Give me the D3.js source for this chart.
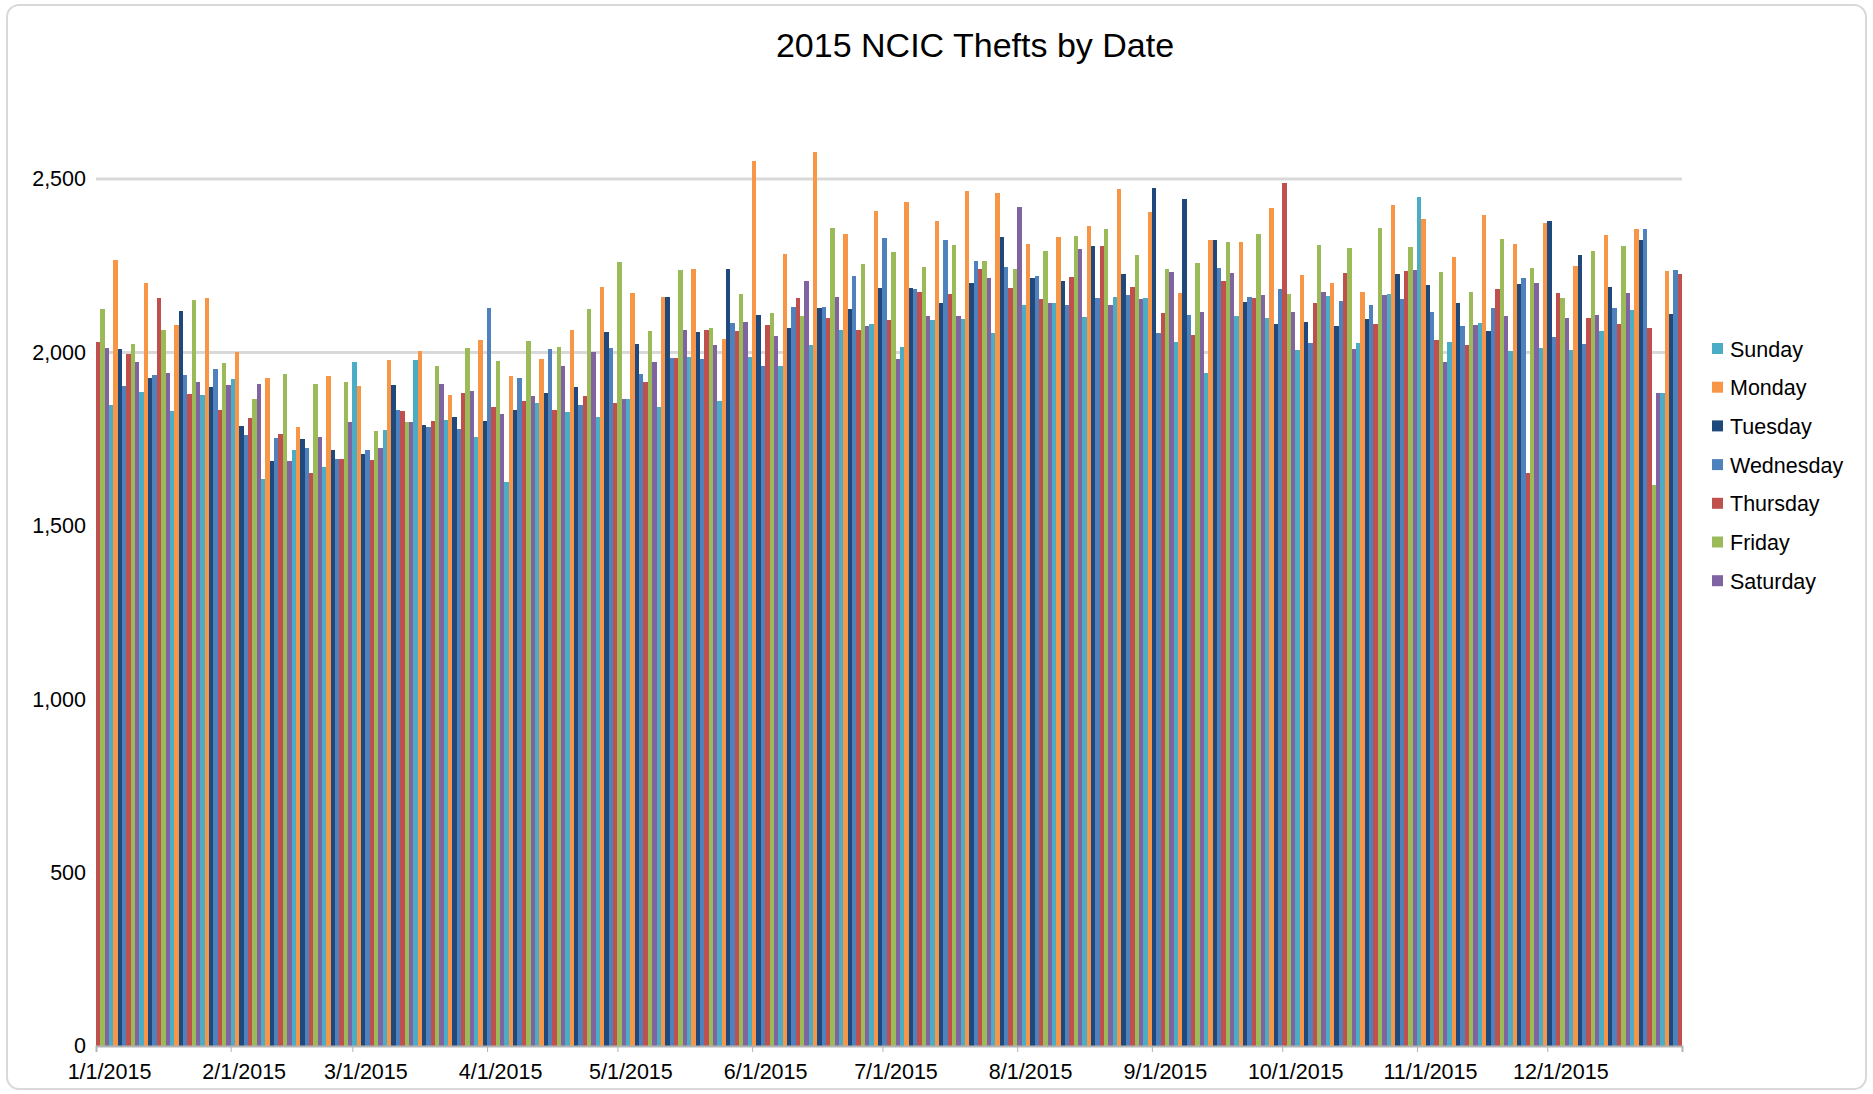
<!DOCTYPE html>
<html>
<head>
<meta charset="utf-8">
<script src="https://cdn.jsdelivr.net/npm/d3@7"></script>
<style>
  body { margin: 0; background: #fff; }
  text { font-family: "Liberation Sans", Arial, sans-serif; }
</style>
</head>
<body>
<div id="container"></div>
<script>
// thefts per day, one array per month
var jan = [2029, 2124, 2012, 1847, 2266, 2009, 1902, 1994, 2023, 1971, 1887, 2199, 1925, 1936, 2156, 2064, 1942, 1832, 2078, 2119, 1936, 1879, 2150, 1916, 1876, 2156, 1899, 1951, 1835, 1968, 1905];
var feb = [1922, 2000, 1789, 1763, 1812, 1867, 1910, 1636, 1925, 1688, 1754, 1766, 1939, 1688, 1720, 1786, 1751, 1723, 1653, 1908, 1757, 1670, 1931, 1720, 1694, 1694, 1916, 1798];
var mar = [1971, 1902, 1708, 1720, 1691, 1772, 1725, 1777, 1977, 1905, 1835, 1832, 1798, 1798, 1977, 2003, 1792, 1786, 1801, 1962, 1910, 1806, 1876, 1815, 1780, 1884, 2014, 1890, 1757, 2035, 1801];
var apr = [2127, 1844, 1974, 1821, 1627, 1931, 1835, 1925, 1861, 2032, 1873, 1853, 1980, 1882, 2009, 1835, 2017, 1960, 1827, 2064, 1899, 1847, 1873, 2124, 2000, 1815, 2188, 2058, 2014, 1853];
var may = [2260, 1867, 1867, 2171, 2023, 1939, 1916, 2061, 1971, 1844, 2159, 2159, 1983, 1983, 2237, 2066, 1986, 2240, 2058, 1980, 2064, 2069, 2020, 1861, 2040, 2240, 2084, 2061, 2168, 2087, 1988];
var jun = [2552, 2107, 1960, 2078, 2113, 2046, 1962, 2283, 2069, 2130, 2156, 2104, 2205, 2020, 2578, 2127, 2130, 2098, 2358, 2159, 2064, 2341, 2124, 2220, 2066, 2254, 2075, 2081, 2408, 2185];
var jul = [2329, 2092, 2289, 1980, 2017, 2434, 2185, 2182, 2173, 2246, 2104, 2092, 2379, 2142, 2324, 2168, 2309, 2104, 2095, 2465, 2199, 2263, 2240, 2263, 2214, 2055, 2460, 2332, 2246, 2185, 2240];
var aug = [2419, 2136, 2312, 2214, 2220, 2153, 2292, 2142, 2142, 2332, 2205, 2136, 2217, 2335, 2298, 2101, 2364, 2306, 2156, 2306, 2355, 2136, 2159, 2471, 2225, 2165, 2188, 2280, 2153, 2156, 2405];
var sep = [2474, 2055, 2113, 2240, 2231, 2029, 2171, 2442, 2107, 2049, 2257, 2116, 1942, 2324, 2324, 2243, 2205, 2318, 2228, 2104, 2318, 2145, 2159, 2156, 2341, 2165, 2098, 2416, 2081, 2182];
var oct = [2488, 2168, 2116, 2006, 2223, 2087, 2026, 2142, 2309, 2173, 2162, 2199, 2075, 2147, 2228, 2301, 2009, 2026, 2173, 2095, 2136, 2081, 2358, 2165, 2168, 2425, 2225, 2153, 2234, 2303, 2237];
var nov = [2448, 2384, 2194, 2116, 2035, 2231, 1971, 2029, 2275, 2142, 2075, 2020, 2173, 2078, 2084, 2396, 2061, 2127, 2182, 2327, 2104, 2003, 2312, 2197, 2214, 1653, 2243, 2199, 2012, 2373];
var dec = [2379, 2043, 2171, 2156, 2098, 2006, 2249, 2280, 2023, 2098, 2292, 2107, 2061, 2338, 2188, 2127, 2081, 2306, 2171, 2121, 2355, 2324, 2355, 2069, 1618, 1884, 1882, 2234, 2110, 2237, 2225];

var dayNames = ["Sunday", "Monday", "Tuesday", "Wednesday", "Thursday", "Friday", "Saturday"];
var dayColors = ["#4bacc6", "#f79646", "#1f497d", "#4f81bd", "#c0504d", "#9bbb59", "#8064a2"];
var yTicks = [0, 500, 1000, 1500, 2000, 2500];

var w = 1873;
var h = 1094;

var svg = d3.select("div#container").append("svg")
    .attr("width", w)
    .attr("height", h);

// outer frame
svg.append("rect")
    .attr("x", 7).attr("y", 5)
    .attr("width", w - 14).attr("height", h - 10)
    .attr("rx", 12)
    .attr("fill", "#fff")
    .attr("stroke", "#d9d9d9")
    .attr("stroke-width", 2);

svg.append("text")
    .attr("x", 975)
    .attr("y", 57)
    .attr("text-anchor", "middle")
    .attr("font-size", 34)
    .attr("fill", "#000")
    .text("2015 NCIC Thefts by Date");

var values = [].concat(jan, feb, mar, apr, may, jun, jul, aug, sep, oct, nov, dec);
var days = d3.timeDay.range(new Date(2015, 0, 1), new Date(2016, 0, 1));
var data = days.map(function(d, i) { return { date: d, value: values[i] }; });

var x = d3.scaleTime()
    .domain([new Date(2015, 0, 1), new Date(2016, 0, 1)])
    .range([96, 1682]);

var y = d3.scaleLinear()
    .domain([0, 2500])
    .range([1046, 179]);

var color = d3.scaleOrdinal().domain(d3.range(7)).range(dayColors);

// gridlines
svg.append("g")
  .selectAll("line")
  .data(yTicks.slice(1))
  .enter().append("line")
    .attr("x1", 96).attr("x2", 1682)
    .attr("y1", function(d) { return y(d); })
    .attr("y2", function(d) { return y(d); })
    .attr("stroke", "#d9d9d9")
    .attr("stroke-width", 3);

svg.append("g")
  .selectAll("rect")
  .data(data)
  .enter().append("rect")
    .attr("x", function(d) { return x(d.date); })
    .attr("width", function(d) { return x(d3.timeDay.offset(d.date, 1)) - x(d.date); })
    .attr("y", function(d) { return y(d.value); })
    .attr("height", function(d) { return y(0) - y(d.value); })
    .attr("fill", function(d) { return color(d.date.getDay()); })
    .attr("shape-rendering", "crispEdges");

// y axis
var gy = svg.append("g")
    .attr("transform", "translate(86,0)")
    .call(d3.axisLeft(y).tickValues(yTicks).tickFormat(d3.format(",")).tickSize(0).tickPadding(0));
gy.select(".domain").remove();
gy.selectAll("text")
    .attr("font-size", 21.5)
    .attr("fill", "#000");

// x axis
var gx = svg.append("g")
    .attr("transform", "translate(0,1046)")
    .call(d3.axisBottom(x)
        .tickValues(d3.timeMonth.range(new Date(2015, 0, 1), new Date(2016, 0, 1)))
        .tickFormat(d3.timeFormat("%-m/%-d/%Y"))
        .tickSize(6)
        .tickPadding(12));
gx.select(".domain").attr("stroke", "#b3b3b3").attr("stroke-width", 2);
gx.selectAll(".tick line").attr("stroke", "#b3b3b3");
gx.selectAll("text")
    .attr("font-size", 21.5)
    .attr("fill", "#000")
    .attr("dx", 13);

// legend
var legend = svg.append("g")
    .attr("transform", "translate(1712,349)");

var item = legend.selectAll("g")
    .data(dayNames)
    .enter().append("g")
    .attr("transform", function(d, i) { return "translate(0," + (i * 38.7) + ")"; });

item.append("rect")
    .attr("x", 0).attr("y", -6)
    .attr("width", 11).attr("height", 11)
    .attr("fill", function(d, i) { return dayColors[i]; });

item.append("text")
    .attr("x", 18)
    .attr("y", 0)
    .attr("dy", "0.35em")
    .attr("font-size", 21.5)
    .attr("fill", "#000")
    .text(function(d) { return d; });
</script>
</body>
</html>
